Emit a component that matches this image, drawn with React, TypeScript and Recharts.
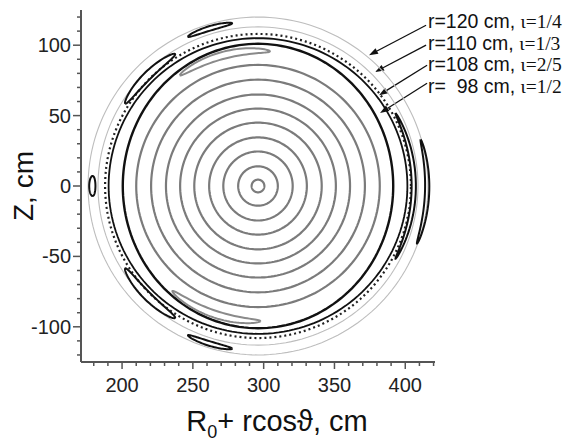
import { ReferenceDot, ReferenceLine, Scatter, ScatterChart, XAxis, YAxis } from "recharts";

// magnetic axis position, cm
const axisR = 296;

// nested magnetic surfaces (grey), radius in cm
const grayRingRadii = [4.5, 14, 24.5, 34.5, 45, 55, 65, 75.5, 86];
// thin outer surfaces
const lightRingRadii = [113, 120];
// black separatrix-like surfaces (horizontal / vertical half-axes)
const blackRingRx = [95.5, 105.5];
const blackRingRz = [101, 105];
// stochastic layer around the 2/5 chain
const stochasticRadius = [108];

// island chains: centre angle (deg), half span (deg), radius, half width (cm)
const quarterIslandAngle = [-2, 107, 180, 253];
const quarterIslandSpan = [18, 8, 3.5, 8];
const quarterIslandRadius = [119.5, 117, 117, 117];
const quarterIslandWidth = [1.5, 1.6, 2.2, 1.6];

const thirdIslandAngle = [0, 135, 225];
const thirdIslandSpan = [28, 13, 13];
const thirdIslandRadius = [110, 110.5, 110.5];
const thirdIslandWidth = [1.5, 2.8, 2.8];

const halfIslandAngle = [105, 251];
const halfIslandSpan = [20, 20];
const halfIslandRadius = [96, 96];
const halfIslandWidth = [2.5, 2.5];

const xMajorTicks = [200, 250, 300, 350, 400];
const xMinorTicks = [180, 190, 210, 220, 230, 240, 260, 270, 280, 290, 310, 320, 330, 340, 360, 370, 380, 390, 410, 420];
const yMajorTicks = [-100, -50, 0, 50, 100];
const yMinorTicks = [-120, -110, -90, -80, -70, -60, -40, -30, -20, -10, 10, 20, 30, 40, 60, 70, 80, 90, 110, 120];

// annotations
const labelRadius = ["120", "110", "108", "\u00a0\u00a098"];
const labelIota = ["1/4", "1/3", "2/5", "1/2"];
const labelR = [416, 416, 416, 416];
const labelZ = [111.9, 96.6, 81.9, 66.1];
const arrowTailR = [414.7, 414.7, 415.4, 415.4];
const arrowTailZ = [114.2, 100, 85.8, 73];
const arrowTipR = [374.4, 378.7, 381.5, 382.2];
const arrowTipZ = [92.9, 81, 64.5, 51.8];

const deg = Math.PI / 180;

function ringPoints(rx: number, rz: number, n = 180) {
  const pts = [];
  for (let i = 0; i <= n; i++) {
    const t = (i / n) * 2 * Math.PI;
    pts.push({ x: axisR + rx * Math.cos(t), y: rz * Math.sin(t) });
  }
  return pts;
}

function islandPoints(angle: number, span: number, radius: number, width: number, n = 90) {
  const pts = [];
  for (let i = 0; i <= n; i++) {
    const p = (i / n) * 2 * Math.PI;
    const th = (angle + span * Math.cos(p)) * deg;
    const r = radius + width * Math.sin(p);
    pts.push({ x: axisR + r * Math.cos(th), y: r * Math.sin(th) });
  }
  return pts;
}

const noDot = () => null;

const XTick = ({ x, y, payload }: any) => {
  const major = xMajorTicks.includes(payload.value);
  return (
    <g>
      <line x1={x} y1={y} x2={x} y2={y + (major ? 7 : 4)} stroke="#555" strokeWidth={1.5} />
      {major && (
        <text x={x} y={y + 30} textAnchor="middle" fontSize={20} fill="#222">
          {payload.value}
        </text>
      )}
    </g>
  );
};

const YTick = ({ x, y, payload }: any) => {
  const major = yMajorTicks.includes(payload.value);
  return (
    <g>
      <line x1={x} y1={y} x2={x - (major ? 8 : 4)} y2={y} stroke="#555" strokeWidth={1.5} />
      {major && (
        <text x={x - 10} y={y + 7} textAnchor="end" fontSize={20} fill="#222">
          {payload.value}
        </text>
      )}
    </g>
  );
};

const XTitle = ({ viewBox }: any) => (
  <text x={viewBox.x + viewBox.width / 2 + 19} y={viewBox.y + 69} textAnchor="middle" fontSize={29} fill="#111">
    R<tspan dy={7} fontSize={18}>0</tspan>
    <tspan dy={-7}>+ rcos&#977;, cm</tspan>
  </text>
);

const YTitle = () => (
  <text x={0} y={0} transform="translate(33,186) rotate(-90)" textAnchor="middle" fontSize={28} fill="#111">
    Z, cm
  </text>
);

const arrowShape = (p: any) => {
  const { x1, y1, x2, y2 } = p;
  const a = Math.atan2(y2 - y1, x2 - x1);
  const len = 9;
  const half = 3.2;
  const bx = x2 - len * Math.cos(a);
  const by = y2 - len * Math.sin(a);
  const nx = -Math.sin(a) * half;
  const ny = Math.cos(a) * half;
  return (
    <g>
      <line x1={x1} y1={y1} x2={bx} y2={by} stroke="#111" strokeWidth={1.3} />
      <polygon points={`${x2},${y2} ${bx + nx},${by + ny} ${bx - nx},${by - ny}`} fill="#111" />
    </g>
  );
};

const labelContent = (i: number) => ({ viewBox }: any) => (
  <text x={viewBox.x} y={viewBox.y} fontSize={19.5} fill="#111">
    <tspan fontFamily="'Liberation Sans', Arial, sans-serif">r={labelRadius[i]} cm, </tspan>
    <tspan fontFamily="'Liberation Serif', 'Times New Roman', serif">&#953;={labelIota[i]}</tspan>
  </text>
);

export default function App() {
  return (
    <div style={{ position: "absolute", left: 0, top: 0 }}>
      <ScatterChart
        width={581}
        height={442}
        margin={{ top: 10, right: 146, bottom: 0, left: 0 }}
        style={{ fontFamily: "'Liberation Sans', Arial, sans-serif" }}
      >
        <XAxis
          type="number"
          dataKey="x"
          domain={[171, 421]}
          ticks={[...xMinorTicks, ...xMajorTicks].sort((a, b) => a - b)}
          interval={0}
          tick={XTick}
          tickLine={false}
          tickSize={0}
          tickMargin={0}
          axisLine={{ stroke: "#555", strokeWidth: 2 }}
          height={80}
          allowDataOverflow
          label={{ content: XTitle }}
        />
        <YAxis
          type="number"
          dataKey="y"
          domain={[-125, 125]}
          ticks={[...yMinorTicks, ...yMajorTicks].sort((a, b) => a - b)}
          interval={0}
          tick={YTick}
          tickLine={false}
          tickSize={0}
          tickMargin={0}
          axisLine={{ stroke: "#555", strokeWidth: 2 }}
          width={81}
          allowDataOverflow
          label={{ content: YTitle }}
        />
        {grayRingRadii.map((r) => (
          <Scatter
            key={`g${r}`}
            data={ringPoints(r, r)}
            line={{ stroke: "#7b7b7b", strokeWidth: 2.2 }}
            lineType="joint"
            shape={noDot}
            isAnimationActive={false}
          />
        ))}
        {lightRingRadii.map((r) => (
          <Scatter
            key={`l${r}`}
            data={ringPoints(r, r)}
            line={{ stroke: "#bdbdbd", strokeWidth: 1.1 }}
            lineType="joint"
            shape={noDot}
            isAnimationActive={false}
          />
        ))}
        {stochasticRadius.map((r) => (
          <Scatter
            key={`s${r}`}
            data={ringPoints(r, r)}
            line={{ stroke: "#222", strokeWidth: 2.2, strokeDasharray: "2 3" }}
            lineType="joint"
            shape={noDot}
            isAnimationActive={false}
          />
        ))}
        {blackRingRx.map((rx, i) => (
          <Scatter
            key={`b${i}`}
            data={ringPoints(rx, blackRingRz[i])}
            line={{ stroke: "#111", strokeWidth: i === 0 ? 2.4 : 1.8 }}
            lineType="joint"
            shape={noDot}
            isAnimationActive={false}
          />
        ))}
        {halfIslandAngle.map((a, i) => (
          <Scatter
            key={`h${i}`}
            data={islandPoints(a, halfIslandSpan[i], halfIslandRadius[i], halfIslandWidth[i])}
            line={{ stroke: "#8a8a8a", strokeWidth: 2 }}
            lineType="joint"
            shape={noDot}
            isAnimationActive={false}
          />
        ))}
        {thirdIslandAngle.map((a, i) => (
          <Scatter
            key={`t${i}`}
            data={islandPoints(a, thirdIslandSpan[i], thirdIslandRadius[i], thirdIslandWidth[i])}
            line={{ stroke: "#111", strokeWidth: 2 }}
            lineType="joint"
            shape={noDot}
            isAnimationActive={false}
          />
        ))}
        {quarterIslandAngle.map((a, i) => (
          <Scatter
            key={`q${i}`}
            data={islandPoints(a, quarterIslandSpan[i], quarterIslandRadius[i], quarterIslandWidth[i])}
            line={{ stroke: "#111", strokeWidth: 2 }}
            lineType="joint"
            shape={noDot}
            isAnimationActive={false}
          />
        ))}
        {labelRadius.map((_, i) => (
          <ReferenceLine
            key={`a${i}`}
            segment={[
              { x: arrowTailR[i], y: arrowTailZ[i] },
              { x: arrowTipR[i], y: arrowTipZ[i] },
            ]}
            ifOverflow="visible"
            shape={arrowShape}
          />
        ))}
        {labelRadius.map((_, i) => (
          <ReferenceDot
            key={`d${i}`}
            x={labelR[i]}
            y={labelZ[i]}
            r={0}
            fill="none"
            stroke="none"
            ifOverflow="visible"
            label={{ content: labelContent(i) }}
          />
        ))}
      </ScatterChart>
    </div>
  );
}
